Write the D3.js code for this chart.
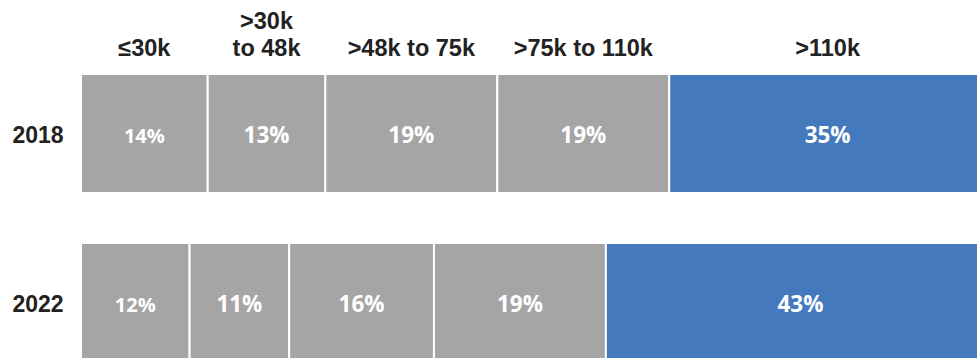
<!DOCTYPE html>
<html>
<head>
<meta charset="utf-8">
<script src="https://cdn.jsdelivr.net/npm/d3@7"></script>
<style>
  html, body { margin: 0; padding: 0; background: #fff; overflow: hidden; }
  svg { display: block; }
  .val { font-family: "Open Sans", "Noto Sans", Lato, sans-serif; font-weight: 700; }
</style>
</head>
<body>
<svg id="chart" width="977" height="358"></svg>
<script>
const years = ["2018", "2022"];
const categories = ["≤30k", ">30k\nto 48k", ">48k to 75k", ">75k to 110k", ">110k"];
const values2018 = [14, 13, 19, 19, 35];
const values2022 = [12, 11, 16, 19, 43];
const seriesByYear = { "2018": values2018, "2022": values2022 };
const colors = ["#a5a5a5", "#a5a5a5", "#a5a5a5", "#a5a5a5", "#4479bd"];

const svg = d3.select("#chart");

const x = d3.scaleLinear().domain([0, 100]).range([81, 986]);
const y = d3.scaleBand().domain(years).range([74, 362]).paddingInner(50 / 169).paddingOuter(0);

const rows = years.map(yr => {
  const vals = seriesByYear[yr];
  let cum = 0;
  return { year: yr, segs: vals.map((v, i) => { const s = { i, v, x0: cum, x1: cum + v }; cum += v; return s; }) };
});

const g = svg.append("g");
const rowG = g.selectAll("g.row").data(rows).join("g").attr("class", "row")
  .attr("transform", d => `translate(0,${y(d.year)})`);

rowG.selectAll("rect").data(d => d.segs).join("rect")
  .attr("x", d => x(d.x0))
  .attr("width", d => x(d.x1) - x(d.x0))
  .attr("y", 0)
  .attr("height", y.bandwidth())
  .attr("fill", d => colors[d.i])
  .attr("stroke", "#fff")
  .attr("stroke-width", 2);

rowG.selectAll("text.val").data(d => d.segs).join("text").attr("class", "val")
  .attr("x", d => (x(d.x0) + x(d.x1)) / 2)
  .attr("y", y.bandwidth() / 2 + 9)
  .attr("text-anchor", "middle")
  .style("font-size", d => (d.i === 0 ? 20 : 22.5) + "px")
  .attr("fill", "#fff")
  .text(d => d.v + "%");

g.selectAll("text.year").data(years).join("text").attr("class", "year")
  .attr("x", 38)
  .attr("y", d => y(d) + y.bandwidth() / 2 + 9)
  .attr("text-anchor", "middle")
  .attr("font-family", "'Liberation Sans', Arial, sans-serif")
  .attr("font-weight", "bold")
  .attr("font-size", 23)
  .attr("fill", "#222")
  .text(d => d);

const headSegs = rows[0].segs;
const head = g.selectAll("text.head").data(headSegs).join("text").attr("class", "head")
  .attr("text-anchor", "middle")
  .attr("font-family", "'Liberation Sans', Arial, sans-serif")
  .attr("font-weight", "bold")
  .attr("font-size", 23.5)
  .attr("fill", "#222");
head.each(function(d) {
  const lines = categories[d.i].split("\n");
  const cx = (x(d.x0) + x(d.x1)) / 2;
  const base = 56 - (lines.length - 1) * 27;
  d3.select(this).selectAll("tspan").data(lines).join("tspan")
    .attr("x", cx)
    .attr("y", (l, k) => base + k * 27)
    .text(l => l);
});
</script>
</body>
</html>
